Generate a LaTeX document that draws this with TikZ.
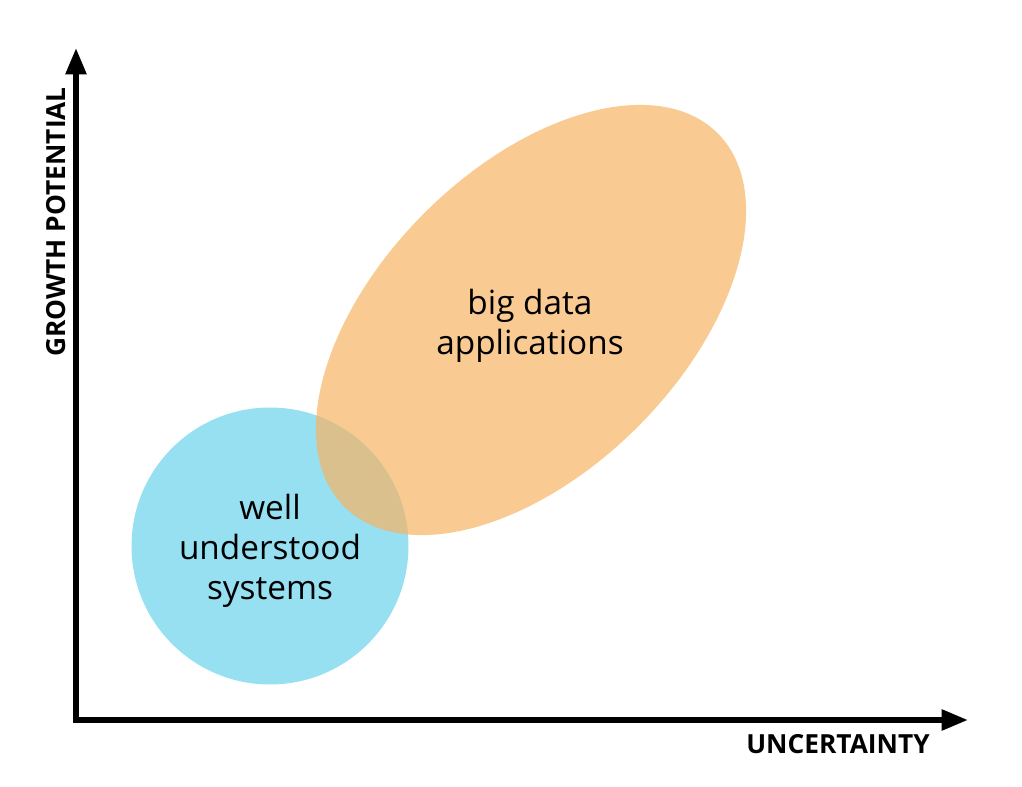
\documentclass[tikz,border=0pt]{standalone}
\usepackage{fontspec}
\setmainfont{Open Sans}
\usepackage{xcolor}
\usepackage{tikz}
\usetikzlibrary{arrows.meta}
\definecolor{bubbleblue}{RGB}{150,224,242}
\definecolor{bubbleorange}{RGB}{246,179,98}

\begin{document}
\begin{tikzpicture}[x=0.025cm,y=-0.025cm]
\useasboundingbox (0,0) rectangle (1022,787);
% regions
\fill[color=bubbleblue] (270,546) circle [radius=138.5];
\fill[color=bubbleorange, fill opacity=0.7, rotate around={45:(531,320)}] (531,320) ellipse [x radius=264, y radius=151];
% axes
\draw[black, line width=4pt, line join=miter, {Triangle[length=0.66cm,width=0.5cm]}-{Triangle[length=0.66cm,width=0.5cm]}] (76,48) -- (76,720) -- (968,720);
\node[rotate=90, font=\bfseries\fontsize{18.7}{20}\selectfont] (ylabel) at (56,222) {GROWTH POTENTIAL};
\node[font=\bfseries\fontsize{18.7}{20}\selectfont] (xlabel) at (838,744) {UNCERTAINTY};
% labels
\node[align=center, font=\fontsize{23.7}{28.45}\selectfont] (bigdata) at (530,326) {big data\\applications};
\node[align=center, font=\fontsize{23.7}{28.45}\selectfont] (wellknown) at (270,551) {well\\understood\\systems};
\end{tikzpicture}
\end{document}
